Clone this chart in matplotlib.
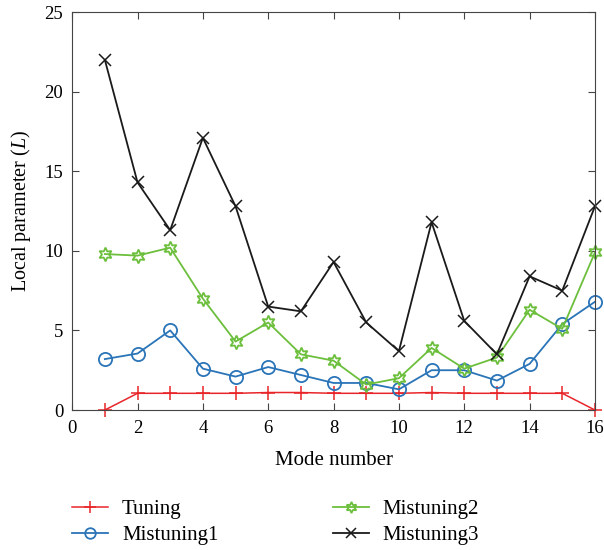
import numpy as np
import matplotlib.pyplot as plt
from matplotlib import rcParams

rcParams['font.family'] = ['Liberation Serif', 'DejaVu Serif']
rcParams['mathtext.fontset'] = 'custom'
rcParams['mathtext.it'] = 'Liberation Serif:italic'
rcParams['mathtext.rm'] = 'Liberation Serif'

modes = np.arange(1, 17)
tuning = [0, 1.05, 1.05, 1.05, 1.05, 1.1, 1.1, 1.05, 1.05, 1.05, 1.1, 1.05, 1.05, 1.05, 1.05, 0]
mistuning1 = [3.2, 3.55, 5.0, 2.6, 2.1, 2.7, 2.2, 1.7, 1.7, 1.3, 2.5, 2.5, 1.85, 2.9, 5.4, 6.8]
mistuning2 = [9.8, 9.7, 10.2, 7.0, 4.3, 5.5, 3.5, 3.1, 1.6, 2.0, 3.9, 2.6, 3.3, 6.3, 5.1, 9.9]
mistuning3 = [22.0, 14.3, 11.3, 17.1, 12.8, 6.5, 6.2, 9.3, 5.5, 3.7, 11.8, 5.6, 3.5, 8.4, 7.5, 12.8]

fig = plt.figure(figsize=(6.04, 5.5), dpi=100)
ax = fig.add_axes([0.1195, 0.2545, 0.8655, 0.7235])

ax.plot(modes, tuning, color='#e8262a', marker='+', ms=10, mew=1.1, lw=1.1, label='Tuning', clip_on=False)
ax.plot(modes, mistuning1, color='#2a74b8', marker='o', ms=9.5, mfc='none', mew=1.3, lw=1.3, label='Mistuning1', clip_on=False)
ax.plot(modes, mistuning2, color='#6cbf3c', marker=(6, 1, 0), ms=10, mfc='none', mew=1.3, lw=1.3, label='Mistuning2', clip_on=False)
ax.plot(modes, mistuning3, color='#1a1a1a', marker='x', ms=9, mew=1.1, lw=1.3, label='Mistuning3', clip_on=False)

ax.set_xlim(0, 16)
ax.set_ylim(0, 25)
ax.set_xticks(range(0, 17, 2))
ax.set_yticks(range(0, 26, 5))
ax.tick_params(direction='in', top=True, right=True, labelsize=13.5, length=5, color='#444444')
ax.tick_params(axis='y', pad=6.5)
ax.tick_params(axis='x', pad=7)
for s in ax.spines.values():
    s.set_color('#444444')
ax.set_xlabel('Mode number', fontsize=15, labelpad=10)
ax.set_ylabel('Local parameter ($L$)', fontsize=14.5, labelpad=8)

fig.legend(loc='upper left', bbox_to_anchor=(0.119, 0.092), ncol=2, frameon=False,
           fontsize=15, handlelength=1.73, handletextpad=0.67, columnspacing=5.5,
           labelspacing=0.3, borderpad=0, borderaxespad=0, markerscale=0.8)

plt.savefig('out.png', dpi=100)
